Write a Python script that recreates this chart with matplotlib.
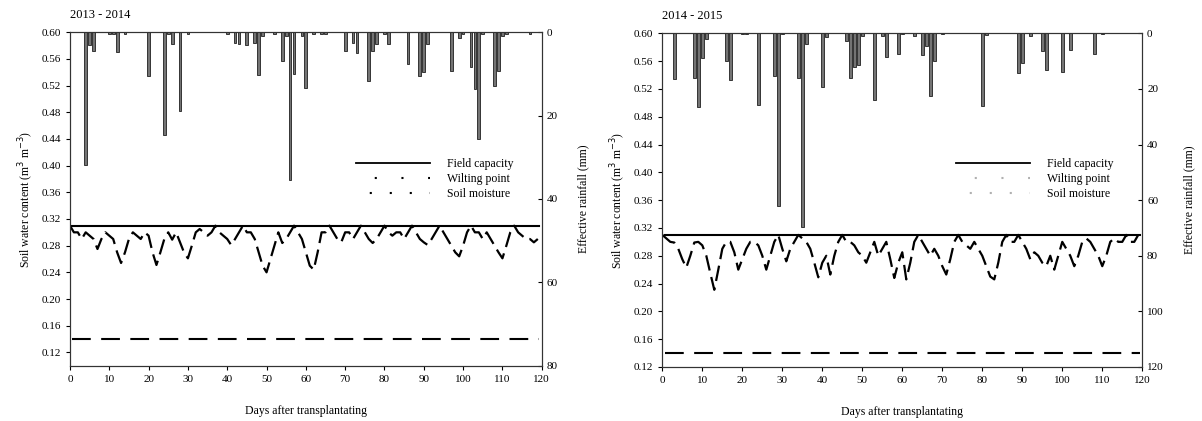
import matplotlib
matplotlib.use("Agg")
import matplotlib.pyplot as plt
from matplotlib.lines import Line2D

plt.rcParams['font.family'] = ['Liberation Serif', 'DejaVu Serif']
plt.rcParams['font.size'] = 8

# ---------------- data ----------------
titles = ["2013 - 2014", "2014 - 2015"]
field_capacity = [0.31, 0.31]
wilting_point = [0.14, 0.14]

# rainfall bars (day, mm)
rain_days_1 = [4, 5, 6, 10, 11, 12, 14, 20, 24, 25, 26, 28, 30, 40, 42, 43, 45, 47, 48, 49, 52,
               54, 55, 56, 57, 59, 60, 62, 64, 65, 70, 72, 73, 76, 77, 78, 80, 81, 86, 89, 90,
               91, 97, 99, 100, 102, 103, 104, 105, 108, 109, 110, 111, 117]
rain_mm_1 = [31.8, 3.0, 4.6, 0.5, 0.5, 4.8, 0.3, 10.5, 24.6, 0.5, 2.8, 19.0, 0.3, 0.3, 2.5, 2.8,
             3.0, 2.6, 10.2, 1.0, 0.4, 7.0, 1.0, 35.4, 10.0, 1.0, 13.3, 0.3, 0.3, 0.4, 4.4, 2.5,
             5.0, 11.6, 4.4, 2.8, 0.3, 2.9, 7.7, 10.6, 9.6, 2.9, 9.4, 1.4, 0.5, 8.4, 13.7, 25.7,
             0.3, 12.8, 9.4, 1.0, 0.3, 0.3]

rain_days_2 = [3, 8, 9, 10, 11, 16, 17, 20, 21, 24, 28, 29, 30, 34, 35, 36, 40, 41, 46, 47, 48,
               49, 50, 53, 55, 56, 59, 60, 63, 65, 66, 67, 68, 70, 80, 81, 89, 90, 92, 95, 96,
               100, 102, 108, 110]
rain_mm_2 = [16.4, 16.1, 26.6, 9.0, 2.0, 9.8, 16.8, 0.3, 0.4, 25.8, 15.5, 62.2, 0.3, 16.2, 69.8,
             3.8, 19.4, 1.4, 2.9, 16.2, 12.2, 11.4, 1.0, 24.0, 1.0, 8.6, 7.4, 0.3, 1.0, 7.8, 4.7,
             22.7, 10.1, 0.3, 26.3, 0.5, 14.3, 10.7, 1.0, 6.2, 13.2, 14.0, 5.9, 7.4, 0.3]

# daily soil moisture (days 0..119)
moist_1 = [0.31, 0.30, 0.30, 0.29, 0.30, 0.295, 0.29, 0.275, 0.29, 0.30,
           0.295, 0.29, 0.27, 0.254, 0.27, 0.29, 0.30, 0.295, 0.29, 0.30,
           0.295, 0.27, 0.251, 0.27, 0.29, 0.30, 0.289, 0.30, 0.285, 0.27,
           0.261, 0.28, 0.30, 0.305, 0.30, 0.295, 0.30, 0.31, 0.30, 0.295,
           0.29, 0.281, 0.29, 0.30, 0.31, 0.30, 0.30, 0.29, 0.27, 0.25,
           0.24, 0.26, 0.28, 0.30, 0.284, 0.29, 0.30, 0.31, 0.30, 0.29,
           0.27, 0.25, 0.244, 0.27, 0.30, 0.30, 0.31, 0.30, 0.29, 0.285,
           0.30, 0.30, 0.29, 0.30, 0.31, 0.30, 0.29, 0.284, 0.29, 0.30,
           0.31, 0.30, 0.295, 0.30, 0.30, 0.29, 0.30, 0.31, 0.30, 0.29,
           0.285, 0.281, 0.29, 0.30, 0.31, 0.30, 0.29, 0.28, 0.27, 0.264,
           0.28, 0.30, 0.31, 0.30, 0.30, 0.29, 0.30, 0.29, 0.28, 0.27,
           0.261, 0.28, 0.30, 0.31, 0.30, 0.295, 0.29, 0.29, 0.285, 0.29]
moist_2 = [0.31, 0.305, 0.30, 0.299, 0.29, 0.275, 0.263, 0.28, 0.299, 0.30,
           0.295, 0.28, 0.255, 0.231, 0.26, 0.29, 0.30, 0.30, 0.285, 0.26,
           0.275, 0.29, 0.30, 0.30, 0.295, 0.28, 0.26, 0.28, 0.30, 0.31,
           0.29, 0.272, 0.29, 0.30, 0.31, 0.305, 0.30, 0.29, 0.27, 0.249,
           0.27, 0.28, 0.253, 0.28, 0.30, 0.31, 0.30, 0.30, 0.295, 0.285,
           0.28, 0.27, 0.285, 0.30, 0.28, 0.29, 0.30, 0.275, 0.248, 0.27,
           0.285, 0.246, 0.27, 0.30, 0.31, 0.30, 0.29, 0.28, 0.29, 0.28,
           0.265, 0.253, 0.275, 0.30, 0.31, 0.30, 0.295, 0.29, 0.30, 0.29,
           0.28, 0.265, 0.25, 0.246, 0.27, 0.30, 0.31, 0.30, 0.30, 0.31,
           0.30, 0.29, 0.275, 0.285, 0.28, 0.27, 0.265, 0.28, 0.26, 0.28,
           0.30, 0.29, 0.28, 0.265, 0.28, 0.30, 0.305, 0.30, 0.29, 0.28,
           0.265, 0.28, 0.30, 0.305, 0.30, 0.30, 0.31, 0.30, 0.30, 0.31]

ylims = [(0.10, 0.60), (0.12, 0.60)]
rain_lims = [80, 120]
rain_ticks = [[0, 20, 40, 60, 80], [0, 20, 40, 60, 80, 100, 120]]
yticks = [0.12, 0.16, 0.20, 0.24, 0.28, 0.32, 0.36, 0.40, 0.44, 0.48, 0.52, 0.56, 0.60]
xticks = list(range(0, 121, 10))

# ---------------- figure ----------------
W, H = 1202, 421
fig = plt.figure(figsize=(W / 100, H / 100), dpi=100)
positions = [[0.0582, 0.1314, 0.3925, 0.7919], [0.551, 0.1283, 0.3993, 0.7926]]
legend_anchor = [(356 / W, 1 - 158 / H), (956 / W, 1 - 158 / H)]
rain_days = [rain_days_1, rain_days_2]
rain_mm = [rain_mm_1, rain_mm_2]
moist = [moist_1, moist_2]
legend_color = ['black', '#b0b0b0']

for i in range(2):
    ax = fig.add_axes(positions[i])
    days = list(range(len(moist[i])))
    ax.axhline(field_capacity[i], color='black', lw=1.5, xmin=0.005, xmax=0.995)
    ax.axhline(wilting_point[i], color='black', lw=1.5, dashes=(9, 5), xmin=0.005, xmax=0.995)
    ax.plot(days, moist[i], color='black', lw=1.6, dashes=(7, 3))
    ax.set_xlim(0, 120)
    ax.set_ylim(*ylims[i])
    ax.set_xticks(xticks)
    ax.set_yticks(yticks)
    ax.set_yticklabels([f"{v:.2f}" for v in yticks])
    ax.tick_params(direction='out', length=3, width=0.8, labelsize=8)
    ax.set_xlabel("Days after transplantating", fontsize=8.5, labelpad=15)
    ax.set_ylabel("Soil water content (m$^3$ m$^{-3}$)", fontsize=8.5)
    for s in ax.spines.values():
        s.set_linewidth(0.8)
        s.set_color('#333333')
    ax.text(0.0, 1.035, titles[i], transform=ax.transAxes, fontsize=9, ha='left', va='bottom')

    ax2 = ax.twinx()
    ax2.bar(rain_days[i], rain_mm[i], width=0.7, color='#747474', edgecolor='black', linewidth=0.5)
    ax2.set_ylim(rain_lims[i], 0)
    ax2.set_yticks(rain_ticks[i])
    ax2.tick_params(direction='in', length=3, width=0.8, labelsize=8)
    ax2.set_ylabel("Effective rainfall (mm)", fontsize=8.5, labelpad=14)
    for s in ax2.spines.values():
        s.set_linewidth(0.8)
        s.set_color('#333333')

    handles = [Line2D([], [], color='black', lw=1.3),
               Line2D([], [], color=legend_color[i], lw=1.5, linestyle=(3.8, (1, 11.8))),
               Line2D([], [], color=legend_color[i], lw=1.5, linestyle=(3.0, (1, 8.6)))]
    fig.legend(handles, ["Field capacity", "Wilting point", "Soil moisture"],
               loc='upper left', bbox_to_anchor=legend_anchor[i], frameon=False,
               borderpad=0, borderaxespad=0,
               fontsize=8.5, handlelength=6.3, handletextpad=1.4, labelspacing=0.25)

fig.savefig("out.png", dpi=100)
